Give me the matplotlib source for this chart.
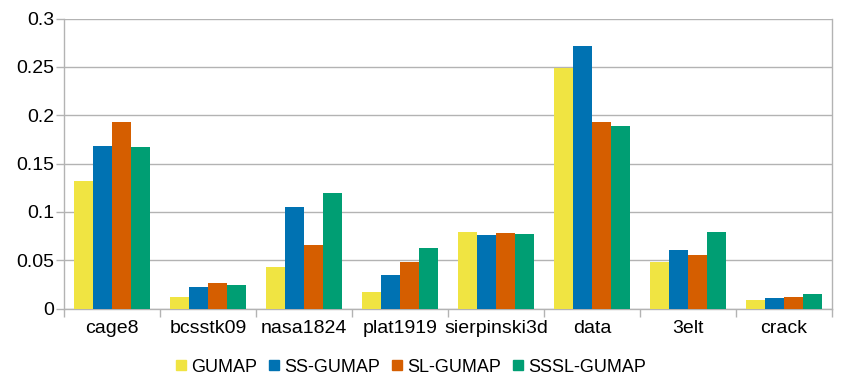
import matplotlib
matplotlib.use("Agg")
import matplotlib.pyplot as plt
import numpy as np

categories = ["cage8", "bcsstk09", "nasa1824", "plat1919", "sierpinski3d", "data", "3elt", "crack"]
gumap = [0.1316, 0.0119, 0.0432, 0.0168, 0.0791, 0.2488, 0.0481, 0.0088]
ss_gumap = [0.168, 0.0219, 0.1053, 0.0347, 0.076, 0.2712, 0.0602, 0.0112]
sl_gumap = [0.1926, 0.0264, 0.0657, 0.0478, 0.0781, 0.1926, 0.055, 0.0116]
sssl_gumap = [0.167, 0.024, 0.1195, 0.0623, 0.0767, 0.1885, 0.0791, 0.0147]
series_names = ["GUMAP", "SS-GUMAP", "SL-GUMAP", "SSSL-GUMAP"]
colors = ["#F0E442", "#0072B2", "#D55E00", "#009E73"]
yticks = [0, 0.05, 0.1, 0.15, 0.2, 0.25, 0.3]
ytick_labels = ["0", "0.05", "0.1", "0.15", "0.2", "0.25", "0.3"]

plt.rcParams["font.family"] = ["Liberation Sans", "DejaVu Sans"]
grid_col = "#b3b3b3"
fs = 14

fig = plt.figure(figsize=(8.49, 3.83), dpi=100)
ax = fig.add_axes([64 / 849, 1 - 308.5 / 383, (832 - 64) / 849, 290 / 383])

x = np.arange(len(categories))
width = 0.2
for i, (vals, name, c) in enumerate(zip([gumap, ss_gumap, sl_gumap, sssl_gumap], series_names, colors)):
    ax.bar(x + (i - 1.5) * width, vals, width, color=c, label=name, zorder=3, linewidth=0)

ax.set_xlim(-0.5, len(categories) - 0.5)
ax.set_ylim(0, 0.3)
ax.set_yticks(yticks)
ax.set_yticklabels(ytick_labels)
ax.yaxis.grid(True, color=grid_col, linewidth=1, zorder=0)

ax.set_xticks(x)
ax.set_xticklabels(categories)
ax.set_xticks(np.arange(len(categories) + 1) - 0.5, minor=True)
ax.tick_params(axis="x", which="major", length=0, pad=8, labelsize=fs)
ax.tick_params(axis="x", which="minor", length=6, color=grid_col, width=1)
ax.tick_params(axis="y", length=6, color=grid_col, width=1, labelsize=fs, pad=1)

for s in ["left", "bottom", "right"]:
    ax.spines[s].set_color(grid_col)
    ax.spines[s].set_linewidth(1)
ax.spines["top"].set_visible(False)

handles = [plt.Line2D([], [], marker="s", linestyle="none", markersize=7.5, color=c) for c in colors]
fig.legend(handles, series_names, loc="center", bbox_to_anchor=(0.484, 1 - 367 / 383), ncol=4,
           frameon=False, fontsize=13, handlelength=0.6, handletextpad=0.25, columnspacing=0.65)

fig.savefig("out.png", dpi=100)
